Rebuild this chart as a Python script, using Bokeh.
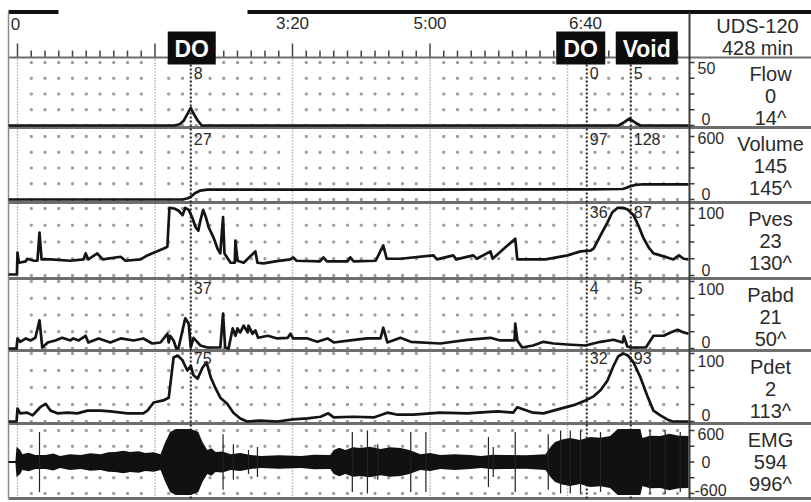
from bokeh.plotting import figure
from bokeh.models import Range1d
from bokeh.embed import file_html
from bokeh.resources import INLINE
from bokeh.core.properties import value

FONT = value("Liberation Sans")

# ---------------- values ----------------
CHANNELS = ["Flow", "Volume", "Pves", "Pabd", "Pdet", "EMG"]
SCALE_LO = [0, 0, 0, 0, 0, -600]
SCALE_HI = [50, 600, 100, 100, 100, 600]
SCALE_TOP_LABEL = ["50", "600", "100", "100", "100", "600"]
SCALE_BOTTOM_LABEL = ["0", "0", "0", "0", "0", "-600"]
CURRENT = ["0", "145", "23", "21", "2", "594"]
MAXIMUM = ["14^", "145^", "130^", "50^", "113^", "996^"]
HEADER = ["UDS-120", "428 min"]

TIME_MAJOR = [0, 100, 200, 300, 400]          # seconds
TIME_LABEL_T = [0, 200, 300, 400]
TIME_LABELS = ["0", "3:20", "5:00", "6:40"]

EVENT_NAMES = ["DO", "DO", "Void"]
EVENT_T = [126, 414, 446]
EVENT_VALUES = [
    ["8", "0", "5"],
    ["27", "97", "128"],
    ["", "36", "87"],
    ["37", "4", "5"],
    ["75", "32", "93"],
    ["", "", ""],
]

# (time s, value)
FLOW = [(-6.5, 0), (114, 0), (118, 1), (121, 4), (124, 10), (126, 14), (128, 9.5),
        (131, 4), (134, 0), (437, 0), (441, 2.5), (445, 5.5), (449, 2.5), (453, 0), (488, 0)]

VOLUME = [(-6.5, 0), (120, 0), (124, 12), (126, 27), (129, 60), (133, 85), (138, 94),
          (300, 95), (414, 97), (440, 100), (443, 112), (446, 128), (450, 140), (455, 145), (488, 145)]

PVES = [(-6.5, 1.5), (-0.4, 1.5), (0, 34), (1, 19), (6, 21), (7, 25), (12, 22), (14.5, 22),
        (16, 64), (17.5, 24), (24, 24), (38.5, 22), (48, 24), (49.5, 33), (51.5, 24), (58, 33),
        (62, 24), (75, 28), (78.5, 22), (89.5, 24), (94.5, 30), (99, 34), (106, 40), (109, 43),
        (110.5, 101), (114, 100), (117, 97), (120, 90), (122, 101), (124.5, 98), (127, 87),
        (129.5, 72), (131.5, 67), (133, 82), (135, 98), (137, 87), (139, 72), (142.5, 57),
        (145.5, 40), (147.5, 33), (149.5, 87), (150.5, 33), (153, 25), (155, 19), (158, 19),
        (158.5, 52), (160, 22), (164.5, 19), (173, 36), (174.5, 19), (179, 18), (187.5, 21),
        (198.5, 24), (200.5, 27), (203, 22), (220, 21), (222.5, 27), (225, 21), (240, 21),
        (242, 27), (244.5, 21), (260.5, 22), (266, 45), (268.5, 25), (278.5, 25), (302.5, 30),
        (305, 24), (317, 30), (319, 24), (331.5, 30), (334, 25), (344, 36), (345.5, 25),
        (362, 55), (363.5, 24), (384, 24), (400, 30), (409.5, 36), (416.5, 37), (419, 40),
        (424, 60), (429, 79), (432.5, 94), (436.5, 101), (440.5, 101), (444, 98), (448, 90),
        (451.5, 75), (455, 57), (459, 42), (462.5, 33), (467.5, 30), (472.5, 27), (477, 24),
        (481, 30), (484.5, 25), (488, 24)]

PABD = [(-6.5, 0), (-0.7, 0), (0, 15), (2, 10), (6, 15), (9.5, 12), (13, 16), (16, 42),
        (18, 1.5), (22, 9), (27.5, 12), (32.5, 16), (38.5, 12), (40.5, 15), (44.5, 12),
        (49.5, 19), (51.5, 9), (59, 15), (67.5, 9), (75, 15), (84.5, 12), (91.5, 15), (98, 7.5),
        (104, 9), (109, 22), (110, 9), (111, 19), (113.5, 12), (115.5, 0), (117, 0), (122, 45),
        (124.5, 37), (126, 1.5), (128, 16), (131, 9), (133, 4.5), (138, 1.5), (147.5, 1.5),
        (149.5, 52), (151, 1.5), (153.5, 0), (156.5, 30), (158.5, 19), (160, 30), (162, 24),
        (164.5, 34), (167.5, 24), (168, 34), (171, 22), (173, 27), (175, 16), (182, 19),
        (189, 15), (196.5, 16), (198.5, 22), (200.5, 15), (211, 15), (218, 10), (225.5, 15),
        (230, 9), (242, 12), (254.5, 15), (264, 15), (266, 31), (269, 9), (278.5, 16), (286, 10),
        (307.5, 7.5), (327, 13), (344, 16), (351, 12), (361.5, 12), (362, 37), (363.5, 12),
        (367, 1.5), (375, 4.5), (382.5, 10), (390, 7.5), (400, 6), (413, 4.5), (424, 10),
        (433.5, 13), (440, 9), (441, 18), (443.5, 3), (446, 1.5), (457, 1.5), (462.5, 19),
        (470, 19), (475, 24), (480, 28), (484.5, 24), (488, 22)]

PDET = [(-6.5, 0), (-0.7, 0), (0, 19), (2, 12), (7, 13), (11, 9), (16.5, 21), (20.5, 26),
        (24, 16), (29, 12), (36.5, 13), (43.5, 12), (51, 16), (60.5, 16), (67.5, 15), (80, 12),
        (91.5, 12), (94.5, 16), (99, 28), (106, 31), (110, 35), (113.5, 94), (116.5, 97),
        (120, 90), (123.5, 75), (126, 82), (128, 68), (131, 63), (134.5, 79), (137.5, 87),
        (140.5, 65), (144, 49), (147.5, 35), (152.5, 26), (157, 13), (162, 4.5), (167, 0),
        (176.5, 1.5), (189, 0), (200.5, 3), (211, 4.5), (220.5, 7), (226, 12), (230, 6),
        (244.5, 7), (259, 6), (269, 13), (276.5, 10), (288, 10), (307.5, 13), (327, 12),
        (349, 15), (360.5, 13), (363.5, 21), (375, 13), (382.5, 12), (395, 19), (404.5, 24),
        (413, 31), (419, 37), (424, 46), (429, 60), (433.5, 82), (437, 96), (440.5, 100),
        (444, 97), (448, 87), (453, 65), (458, 38), (462.5, 16), (467.5, 9), (472.5, 3),
        (476.5, 0), (488, 0)]

# EMG envelope (time s, half amplitude uV) and isolated spikes
EMG_ENVELOPE = [(-6.5, 20), (-1.5, 20), (-0.7, 285), (2, 230), (3.5, 150), (8, 175), (13, 135),
                (20.5, 135), (26, 160), (31, 115), (38, 150), (46, 135), (53, 165), (60.5, 150),
                (66, 185), (71, 190), (77, 215), (82, 190), (88, 205), (93, 170), (99, 185),
                (104, 150), (107.5, 380), (111, 570), (115, 630), (126, 630), (131.5, 570),
                (134.5, 380), (138, 230), (141, 260), (144, 190), (149, 200), (155, 150),
                (162, 170), (169.5, 135), (177, 115), (190, 130), (206, 115), (216, 140),
                (227.5, 135), (230, 230), (234, 270), (238.5, 230), (244, 280), (249.5, 265),
                (256, 290), (264, 250), (271, 280), (278.5, 265), (285, 230), (293, 150),
                (300, 170), (307.5, 135), (318, 150), (329.5, 135), (337, 115), (346, 140),
                (355, 135), (370, 130), (384, 150), (388, 300), (391, 380), (396, 430),
                (402, 455), (409, 420), (416.5, 475), (424, 460), (431, 495), (436.5, 630),
                (453, 630), (454.5, 455), (460, 500), (467.5, 495), (474, 540), (481, 500),
                (488, 495)]
EMG_SPIKES = [(16, 570), (149.5, 530), (157, 340), (168, 230), (174.5, 285), (243.5, 570),
              (254.5, 600), (262, 340), (286, 570), (297, 570), (342.5, 475), (346, 285),
              (362, 570), (386, 530), (395, 600), (402, 600), (409.5, 600), (424, 570),
              (460, 610), (471, 610), (482, 570)]

TRACES = {"Flow": FLOW, "Volume": VOLUME, "Pves": PVES, "Pabd": PABD, "Pdet": PDET}

# ---------------- layout (pixels) ----------------
W, H = 811, 502
X0_PX, PX_PER_S = 17.0, 1.375
LEFT_PX, RIGHT_PX = 8, 689
RULER_PX = 57
STRIP_TOP = [57, 127, 202, 278, 350, 423]
BOTTOM_PX = 498
LO_PX = [125, 199, 275, 348, 421, 493]
HI_PX = [62, 136, 208, 281, 353, 430]
EVENT_LABEL_DY = [9, 5, 3, 3, 1, 3]
BOX_DX = [1, -6, 16]
BOX_W = [48, 49, 62]
BOX_TOP, BOX_BOTTOM = 31, 64
TIME_LABEL_DX = [-2, 0, 0, 18]
PANEL_CX, HEADER_CX = 770, 757
INK = "#141414"
TXT = "#2b2b2b"

p = figure(width=W, height=H, x_range=Range1d(0, W), y_range=Range1d(H, 0),
           min_border=0, toolbar_location=None, output_backend="svg",
           x_axis_location=None, y_axis_location=None, outline_line_color=None,
           background_fill_color="white", border_fill_color="white")
p.grid.visible = False
p.extra_x_ranges = {"time": Range1d(-X0_PX / PX_PER_S, (W - X0_PX) / PX_PER_S)}
yr = {}
for name, lo, hi, lo_px, hi_px in zip(CHANNELS, SCALE_LO, SCALE_HI, LO_PX, HI_PX):
    s = (hi - lo) / (lo_px - hi_px)
    yr[name] = Range1d(lo - (H - lo_px) * s, hi + hi_px * s)
p.extra_y_ranges = yr

# dotted grid
minor_t = [t for t in range(10, 490, 10) if t % 100]
for name, lo, hi in zip(CHANNELS, SCALE_LO, SCALE_HI):
    rows = [lo + (hi - lo) * k / 4 for k in range(5)]
    xs = [t for t in minor_t for r in rows]
    ys = [r for t in minor_t for r in rows]
    p.scatter(xs, ys, marker="square", size=2, color="#9c9c9c",
              x_range_name="time", y_range_name=name)
p.segment(x0=TIME_MAJOR, x1=TIME_MAJOR, y0=RULER_PX + 2, y1=BOTTOM_PX,
          x_range_name="time", line_color="#8a8a8a", line_width=1.5, line_dash="1 2")

# ruler
all_t = list(range(0, 490, 10))
p.segment(x0=all_t, x1=all_t, y0=[43 if t % 100 == 0 else 50 for t in all_t], y1=RULER_PX,
          x_range_name="time", line_color="#444444", line_width=1.5)
p.segment(x0=[LEFT_PX, 247], x1=[58, W], y0=11.5, y1=11.5, line_color="#111111", line_width=4)
p.text(x=[X0_PX + t * PX_PER_S + dx for t, dx in zip(TIME_LABEL_T, TIME_LABEL_DX)], y=23,
       text=TIME_LABELS, text_font=FONT, text_font_size="17px", text_color=TXT,
       text_align="center", text_baseline="middle")

# frame lines
seps = [RULER_PX] + STRIP_TOP[1:] + [BOTTOM_PX]
p.segment(x0=LEFT_PX, x1=W, y0=seps, y1=seps, line_color="#6e6e6e",
          line_width=[2] + [3] * (len(seps) - 1))
p.segment(x0=[LEFT_PX, RIGHT_PX], x1=[LEFT_PX, RIGHT_PX], y0=12, y1=BOTTOM_PX,
          line_color=["#8a8a8a", "#3a3a3a"], line_width=[1.5, 2])

# event lines
p.segment(x0=EVENT_T, x1=EVENT_T, y0=BOX_BOTTOM, y1=BOTTOM_PX, x_range_name="time",
          line_color="#222222", line_width=2, line_dash="2 2")

# traces
for name, pts in TRACES.items():
    t, v = zip(*pts)
    p.line(list(t), list(v), x_range_name="time", y_range_name=name,
           line_color=INK, line_width=2.7, line_join="round")
et, ea = zip(*EMG_ENVELOPE)
p.varea(x=list(et), y1=[-a for a in ea], y2=list(ea), x_range_name="time",
        y_range_name="EMG", fill_color="#111111")
st, sa = zip(*EMG_SPIKES)
p.segment(x0=list(st), x1=list(st), y0=[-a for a in sa], y1=list(sa),
          x_range_name="time", y_range_name="EMG", line_color="#222222", line_width=1.2)

# event value annotations
for ci, name in enumerate(CHANNELS):
    for ei, txt in enumerate(EVENT_VALUES[ci]):
        if txt:
            p.text(x=[EVENT_T[ei]], y=[STRIP_TOP[ci] + EVENT_LABEL_DY[ci]], text=[txt],
                   x_range_name="time", x_offset=3, text_font=FONT, text_font_size="16px",
                   text_color=TXT, text_align="left", text_baseline="top")

# event boxes
box_x = [X0_PX + t * PX_PER_S + dx for t, dx in zip(EVENT_T, BOX_DX)]
p.rect(x=box_x, y=(BOX_TOP + BOX_BOTTOM) / 2, width=BOX_W, height=BOX_BOTTOM - BOX_TOP,
       fill_color="#0d0d0d", line_color=None)
p.text(x=box_x, y=(BOX_TOP + BOX_BOTTOM) / 2 + 1, text=EVENT_NAMES, text_font=FONT,
       text_font_style="bold", text_font_size="23px", text_color="white",
       text_align="center", text_baseline="middle")

# right panel: scale ticks, scale labels, channel readouts
for ci, (name, lo, hi) in enumerate(zip(CHANNELS, SCALE_LO, SCALE_HI)):
    rows = [lo + (hi - lo) * k / 4 for k in range(5)]
    p.segment(x0=RIGHT_PX, x1=RIGHT_PX + 5, y0=rows, y1=rows, y_range_name=name,
              line_color="#3a3a3a", line_width=1.5)
    top = STRIP_TOP[ci]
    bot = STRIP_TOP[ci + 1] if ci + 1 < len(STRIP_TOP) else BOTTOM_PX
    p.text(x=[RIGHT_PX + 8], y=[top + 10], text=[SCALE_TOP_LABEL[ci]], text_font=FONT,
           text_font_size="16px", text_color=TXT, text_align="left", text_baseline="middle")
    p.text(x=[RIGHT_PX + (5 if lo < 0 else 12)], y=[bot - 9], text=[SCALE_BOTTOM_LABEL[ci]],
           text_font=FONT, text_font_size="16px", text_color=TXT, text_align="left",
           text_baseline="middle")
    if lo < 0:
        p.text(x=[RIGHT_PX + 12], y=[0], y_range_name=name, text=["0"], text_font=FONT,
               text_font_size="16px", text_color=TXT, text_align="left", text_baseline="middle")
    p.text(x=[PANEL_CX] * 3, y=[top + 16, top + 38, top + 60],
           text=[name, CURRENT[ci], MAXIMUM[ci]], text_font=FONT, text_font_size="20px",
           text_color=TXT, text_align="center", text_baseline="middle")
p.text(x=[HEADER_CX] * 2, y=[25, 47], text=HEADER, text_font=FONT, text_font_size="20px",
       text_color=TXT, text_align="center", text_baseline="middle")

open("out.html", "w").write(file_html(p, INLINE))
